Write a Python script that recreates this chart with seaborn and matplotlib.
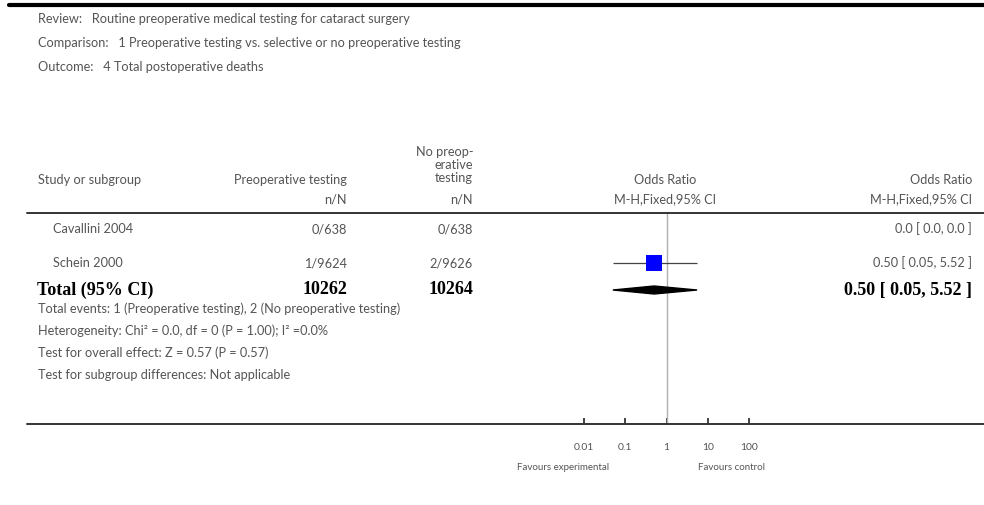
import numpy as np
import pandas as pd
import matplotlib.pyplot as plt
import seaborn as sns
from matplotlib.lines import Line2D

# estilo base + fuente (después de set_theme)
sns.set_theme(style="white")
plt.rcParams['font.family'] = ['Lato', 'DejaVu Sans']

W, H = 984, 505  # tamaño en píxeles

# --- datos ---
review = "Routine preoperative medical testing for cataract surgery"
comparison = "1 Preoperative testing vs. selective or no preoperative testing"
outcome = "4 Total postoperative deaths"

studies = ["Cavallini 2004", "Schein 2000"]
exp_events = [0, 1]
exp_total = [638, 9624]
ctl_events = [0, 2]
ctl_total = [638, 9626]
or_est = [np.nan, 0.50]
or_lo = [np.nan, 0.05]
or_hi = [np.nan, 5.52]
or_text = ["0.0 [ 0.0, 0.0 ]", "0.50 [ 0.05, 5.52 ]"]

total_exp = 10262
total_ctl = 10264
total_or = (0.50, 0.05, 5.52)

footer = [
    "Total events: 1 (Preoperative testing), 2 (No preoperative testing)",
    "Heterogeneity: Chi\u00b2 = 0.0, df = 0 (P = 1.00); I\u00b2 =0.0%",
    "Test for overall effect: Z = 0.57 (P = 0.57)",
    "Test for subgroup differences: Not applicable",
]

ticks = [0.01, 0.1, 1, 10, 100]
tick_labels = ["0.01", "0.1", "1", "10", "100"]

df = pd.DataFrame({
    "study": studies,
    "e_ev": exp_events, "e_n": exp_total,
    "c_ev": ctl_events, "c_n": ctl_total,
    "est": or_est, "lo": or_lo, "hi": or_hi, "label": or_text,
})

# --- layout (píxeles) ---
ROW_Y = [229, 263]
TOTAL_Y = 290
FOOT_Y = [309, 331, 353, 375]
HEAD_LINE_Y = 213
AXIS_LINE_Y = 424
X_PLOT_L, X_PLOT_R = 584, 749
GREY = "#555555"
SERIF = ['Liberation Serif', 'DejaVu Serif']
FS = 9.2      # texto normal
FS_B = 13     # fila total

fig = plt.figure(figsize=(W / 100, H / 100), dpi=100)


def txt(x, y, s, ha='left', size=FS, color=GREY, **kw):
    fig.text(x / W, 1 - y / H, s, ha=ha, va='center', fontsize=size, color=color, **kw)


def hline(y, x0, x1, lw, color):
    fig.add_artist(Line2D([x0 / W, x1 / W], [1 - y / H, 1 - y / H],
                          transform=fig.transFigure, lw=lw, color=color))


# cabecera
hline(5, 9, 984, 3.0, "black")
txt(38, 19, "Review:   " + review)
txt(38, 43, "Comparison:   " + comparison)
txt(38, 67, "Outcome:   " + outcome)

txt(38, 180, "Study or subgroup")
txt(347, 180, "Preoperative testing", ha='right')
txt(473, 152, "No preop-", ha='right')
txt(473, 165, "erative", ha='right')
txt(473, 178, "testing", ha='right')
txt(665, 180, "Odds Ratio", ha='center')
txt(972, 180, "Odds Ratio", ha='right')
txt(347, 199, "n/N", ha='right')
txt(473, 199, "n/N", ha='right')
txt(665, 199, "M-H,Fixed,95% CI", ha='center')
txt(972, 199, "M-H,Fixed,95% CI", ha='right')
hline(HEAD_LINE_Y, 27, 984, 1.4, "#333333")

# filas de estudios
for y, (_, r) in zip(ROW_Y, df.iterrows()):
    txt(53, y, r["study"])
    txt(347, y, f"{r['e_ev']}/{r['e_n']}", ha='right')
    txt(473, y, f"{r['c_ev']}/{r['c_n']}", ha='right')
    txt(972, y, r["label"], ha='right')

# total
txt(37, TOTAL_Y, "Total (95% CI)", size=FS_B, color="black", weight='bold', family=SERIF)
txt(347, TOTAL_Y, str(total_exp), ha='right', size=FS_B, color="black", weight='bold', family=SERIF)
txt(473, TOTAL_Y, str(total_ctl), ha='right', size=FS_B, color="black", weight='bold', family=SERIF)
txt(972, TOTAL_Y, f"{total_or[0]:.2f} [ {total_or[1]:.2f}, {total_or[2]:.2f} ]",
    ha='right', size=FS_B, color="black", weight='bold', family=SERIF)

for y, s in zip(FOOT_Y, footer):
    txt(38, y, s)

hline(AXIS_LINE_Y, 27, 984, 1.4, "#333333")

# --- forest plot (eje log) ---
ax = fig.add_axes([X_PLOT_L / W, 1 - AXIS_LINE_Y / H,
                   (X_PLOT_R - X_PLOT_L) / W, (AXIS_LINE_Y - HEAD_LINE_Y) / H])
ax.set_xscale('log')
ax.set_xlim(ticks[0], ticks[-1])
ax.set_ylim(AXIS_LINE_Y, HEAD_LINE_Y)
ax.patch.set_alpha(0)
for sp in ax.spines.values():
    sp.set_visible(False)

ax.axvline(1, color="#b0b0b0", lw=1.0, zorder=1)

ok = df["est"].notna()
ys = np.array(ROW_Y)[ok.values]
ax.hlines(ys, df.loc[ok, "lo"], df.loc[ok, "hi"], color="#444444", lw=0.9, zorder=2)
plot_df = pd.DataFrame({"est": df.loc[ok, "est"].values, "y": ys})
sns.scatterplot(data=plot_df, x="est", y="y", marker='s', s=130, color="#0000ff",
                edgecolor="none", ax=ax, zorder=3, legend=False)

est, lo, hi = total_or
h = 4.0
ax.fill([lo, est, hi, est], [TOTAL_Y, TOTAL_Y - h, TOTAL_Y, TOTAL_Y + h],
        color="black", zorder=3, clip_on=False)

ax.set_xticks(ticks)
ax.set_xticklabels(tick_labels)
ax.minorticks_off()
ax.tick_params(axis='x', direction='in', length=4, width=1.2, color="#222222",
               pad=14, labelsize=7.5, labelcolor=GREY, bottom=True)
ax.set_yticks([])
ax.set_xlabel("")
ax.set_ylabel("")

txt(563, 467, "Favours experimental", ha='center', size=7)
txt(731, 467, "Favours control", ha='center', size=7)

fig.savefig("out.png", dpi=100)
